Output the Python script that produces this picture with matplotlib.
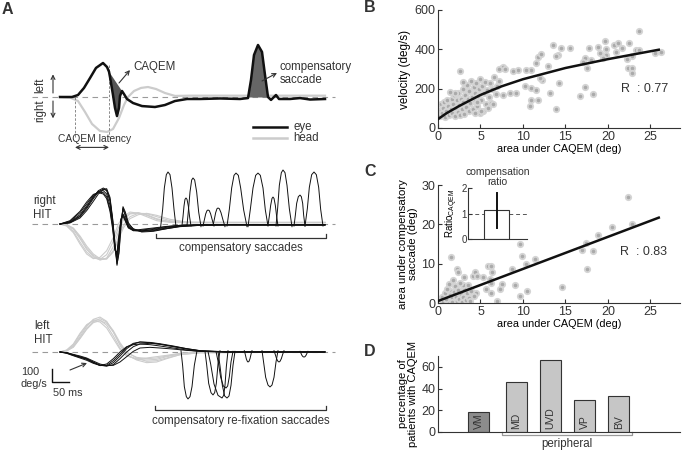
import numpy as np
import matplotlib
matplotlib.use('Agg')
import matplotlib.pyplot as plt

plt.rcParams['font.family'] = ['Liberation Sans', 'DejaVu Sans']
plt.rcParams['text.color'] = '#333333'

# ---------------- data ----------------
# panel A, top: example trace (t in ms, velocity in deg/s)
ex_head_t = [0, 30, 54, 75, 96, 120, 141, 159, 177, 192, 204, 222, 243, 264, 288, 315, 345, 390, 795]
ex_head_v = [0, -4, -30, -112, -202, -255, -262, -240, -157, -60, 0, 45, 68, 75, 60, 30, 8, 10, 10]
ex_eye_t = [0, 36, 54, 72, 90, 108, 129, 141, 147, 150, 159, 165, 171, 177, 180, 186, 192, 201, 219, 246,
            285, 315, 345, 381, 420, 480, 540, 564, 573, 582, 594, 606, 615, 624, 633, 648, 657, 690, 720, 750, 795]
ex_eye_v = [0, 0, 15, 68, 142, 218, 255, 225, 190, 150, 15, -82, -143, -82, 8, 45, 22, -15, -45, -68,
            -75, -60, -30, -15, -15, -11, -15, -8, 128, 315, 390, 338, 165, 0, -22, 15, -15, -15, -8, -19, -15]

# panel A, right HIT
rh_eye_t = [0, 30, 60, 80, 100, 115, 130, 140, 150, 158, 165, 171, 177, 183, 189, 196, 205, 220, 245, 280,
            320, 360, 420, 500, 600, 700, 795]
rh_eye_v = [
    [0, 8, 45, 100, 170, 225, 258, 265, 200, 40, -150, -300, -220, -20, 130, 90, 10, -40, -55, -50, -35, -20, -10, -5, -8, -5, -8],
    [0, 10, 55, 115, 190, 240, 262, 250, 170, 20, -170, -280, -150, 20, 110, 60, -10, -45, -50, -45, -30, -15, -8, -6, -5, -8, -6],
    [0, 15, 70, 135, 205, 245, 250, 225, 140, 0, -180, -250, -120, 30, 75, 40, -20, -50, -55, -40, -25, -12, -8, -5, -8, -6, -5],
    [0, 20, 85, 150, 215, 240, 235, 205, 110, -20, -190, -230, -100, 40, 70, 30, -25, -45, -45, -35, -20, -10, -6, -5, -5, -6, -8],
    [0, 25, 95, 165, 222, 235, 225, 190, 95, -40, -200, -210, -80, 35, 60, 20, -30, -50, -40, -30, -18, -10, -5, -8, -6, -5, -6],
    [0, 12, 60, 125, 200, 250, 270, 255, 185, 30, -160, -310, -200, 0, 120, 75, 0, -35, -60, -55, -35, -18, -10, -6, -5, -8, -5],
]
rh_head_t = [0, 20, 40, 60, 80, 100, 120, 140, 160, 175, 190, 210, 235, 260, 290, 330, 380, 450, 795]
rh_head_v = [
    [0, -8, -40, -110, -190, -245, -270, -255, -170, -60, 30, 75, 82, 70, 40, 18, 12, 12, 12],
    [0, -12, -55, -135, -210, -255, -265, -230, -130, -30, 40, 80, 85, 65, 35, 15, 10, 12, 10],
    [0, -5, -30, -90, -165, -225, -260, -262, -200, -100, -10, 55, 80, 78, 55, 25, 12, 10, 12],
    [0, -15, -65, -150, -225, -260, -250, -200, -100, 0, 55, 90, 80, 55, 25, 12, 10, 10, 10],
    [0, -6, -35, -100, -180, -235, -268, -262, -210, -120, -30, 40, 70, 80, 65, 35, 15, 12, 12],
]
rh_sacc_t = [
    [302, 308, 313, 319, 324, 330, 336, 342, 348], [366, 369, 372, 375, 378, 381, 385, 389, 393],
    [381, 385, 390, 395, 399, 404, 410, 416, 423], [429, 433, 437, 441, 444, 448, 452, 457, 462],
    [459, 463, 467, 471, 474, 478, 483, 489, 495], [501, 508, 515, 522, 528, 535, 542, 551, 561],
    [564, 571, 579, 587, 594, 601, 609, 616, 624], [624, 628, 632, 636, 639, 642, 646, 650, 654],
    [648, 653, 658, 664, 669, 675, 681, 688, 696], [702, 706, 710, 715, 720, 724, 728, 731, 735],
    [735, 742, 748, 755, 762, 769, 776, 782, 789],
]
rh_sacc_v = [
    [-20, 110, 270, 370, 390, 370, 270, 110, -20], [-10, 55, 135, 185, 195, 185, 135, 50, -15],
    [-10, 95, 240, 330, 345, 330, 240, 90, -20], [-15, 30, 75, 100, 105, 100, 75, 28, -15],
    [-10, 35, 85, 115, 120, 115, 85, 30, -20], [-15, 110, 270, 365, 382, 365, 270, 105, -20],
    [-20, 110, 270, 365, 382, 365, 270, 105, -15], [-10, 60, 140, 192, 202, 192, 140, 55, -15],
    [-15, 120, 290, 385, 405, 385, 290, 115, -20], [-15, 65, 155, 205, 217, 205, 155, 65, -15],
    [-15, 115, 275, 370, 390, 370, 275, 110, -15],
]

# panel A, left HIT
lh_head_t = [0, 20, 40, 60, 80, 100, 120, 140, 160, 180, 200, 230, 260, 290, 320, 360, 420, 795]
lh_head_v = [
    [0, 10, 45, 115, 190, 245, 262, 230, 150, 50, -20, -60, -80, -75, -50, -20, -5, 0],
    [0, 12, 55, 130, 200, 240, 240, 200, 120, 30, -25, -55, -60, -55, -35, -15, -5, 0],
    [0, 8, 35, 100, 170, 220, 235, 215, 150, 60, -5, -40, -50, -45, -30, -12, -3, 0],
    [0, 15, 60, 140, 205, 235, 225, 180, 100, 20, -30, -50, -45, -35, -25, -10, -3, 0],
    [0, 10, 40, 105, 175, 228, 250, 225, 160, 70, 0, -45, -70, -65, -45, -20, -5, 0],
]
lh_eye_t = [0, 20, 40, 60, 80, 100, 120, 140, 160, 180, 200, 220, 240, 270, 300, 340, 380, 420, 500, 795]
lh_eye_v = [
    [0, -5, -20, -35, -50, -75, -100, -105, -80, -30, 25, 60, 75, 72, 62, 45, 25, 10, 0, 0],
    [0, -8, -25, -40, -55, -80, -102, -100, -65, -15, 35, 65, 75, 70, 58, 40, 22, 8, 2, 0],
    [0, -6, -22, -38, -52, -78, -98, -105, -95, -50, 0, 40, 60, 65, 58, 42, 25, 10, 0, 0],
    [0, -10, -28, -45, -62, -85, -100, -90, -50, 0, 40, 55, 60, 55, 45, 30, 15, 5, 0, 0],
    [0, -5, -18, -30, -45, -68, -90, -102, -100, -75, -35, 5, 30, 35, 30, 22, 12, 5, 0, 0],
]
lh_sacc_t = [
    [363, 368, 373, 379, 384, 390, 396, 403, 411], [435, 440, 446, 453, 459, 464, 469, 474, 480],
    [444, 452, 462, 474, 486, 491, 495, 499, 504], [474, 480, 487, 494, 501, 507, 513, 519, 525],
    [468, 475, 482, 490, 498, 503, 508, 513, 519], [553, 556, 559, 562, 564, 567, 570, 573, 576],
    [606, 611, 617, 624, 630, 636, 642, 648, 654], [642, 646, 650, 654, 657, 660, 664, 668, 672],
    [720, 723, 726, 729, 732, 735, 738, 741, 744],
]
lh_sacc_v = [
    [10, -105, -260, -335, -352, -335, -260, -100, 10], [5, -95, -235, -305, -322, -305, -235, -90, 10],
    [5, -90, -240, -325, -345, -325, -250, -110, 10], [5, -105, -250, -330, -345, -330, -250, -100, 5],
    [5, -80, -190, -255, -270, -255, -185, -75, 5], [10, -20, -52, -70, -75, -70, -50, -18, 10],
    [10, -80, -190, -248, -262, -248, -190, -75, 10], [10, -20, -52, -70, -75, -70, -50, -18, 10],
    [5, -10, -26, -35, -38, -35, -25, -9, 5],
]

# panel B: peak velocity vs area under CAQEM
b_x = [13.6, 14.5, 15.5, 14.1, 13.9, 11.8, 12.1, 11.0, 10.4, 11.6, 12.9, 12.2, 12.0, 11.0, 11.6, 11.0, 11.8, 10.8,
       13.9, 13.2, 14.2, 10.2, 9.4, 8.8, 9.2, 8.5, 7.6, 7.5, 7.7, 7.2, 7.9, 17.8, 18.8, 19.8, 19.7, 20.7, 21.2, 21.7,
       22.5, 23.7, 23.3, 21.0, 19.8, 19.1, 19.4, 18.0, 17.3, 17.1, 17.5, 17.3, 16.7, 18.3, 22.4, 22.9, 22.9, 22.2,
       22.8, 25.5, 26.3, 23.7, 2.6,
       0.2, 0.3, 0.4, 0.5, 0.6, 0.7, 0.8, 1.0, 1.1, 1.2, 1.3, 1.5, 1.6, 1.7, 1.8, 1.9, 2.0, 2.1, 2.2, 2.3, 2.4, 2.5,
       2.6, 2.7, 2.8, 2.9, 3.0, 3.1, 3.2, 3.3, 3.4, 3.5, 3.6, 3.7, 3.8, 3.9, 4.0, 4.1, 4.2, 4.3, 4.4, 4.5, 4.6, 4.7,
       4.8, 4.9, 5.0, 5.1, 5.2, 5.3, 5.4, 5.5, 5.6, 5.8, 6.0, 6.1, 6.2, 6.4, 6.6, 6.8, 7.0, 7.2, 3.0, 2.0, 4.6, 5.9,
       6.5, 1.4, 5.1, 4.3]
b_y = [423, 406, 406, 372, 365, 360, 376, 296, 296, 330, 313, 245, 254, 203, 195, 144, 144, 110,
       98, 178, 228, 215, 296, 291, 178, 178, 169, 305, 310, 300, 298, 409, 414, 401, 440, 420, 431, 409,
       431, 494, 398, 384, 372, 381, 355, 347, 355, 338, 305, 211, 161, 173, 305, 305, 279, 350,
       364, 381, 384, 398, 291,
       60, 90, 120, 75, 100, 130, 55, 85, 140, 110, 65, 95, 150, 75, 120, 170, 60, 100, 140, 80, 180, 115,
       65, 150, 95, 200, 130, 70, 170, 105, 220, 145, 85, 190, 125, 240, 160, 95, 210, 135, 180, 230, 110, 165,
       200, 75, 250, 140, 215, 85, 180, 235, 120, 195, 160, 230, 125, 200, 260, 175, 215, 240, 235, 180, 130, 100,
       120, 185, 85, 76]
b_fit_x = [0, 1, 2.5, 5, 7.5, 10, 15, 20, 26]
b_fit_y = [45, 75, 112, 168, 212, 248, 305, 350, 398]
b_r = 'R  : 0.77'

# panel C: area under compensatory saccade vs area under CAQEM
c_x = [22.4, 22.9, 20.5, 18.9, 17.4, 16.9, 18.2, 17.5, 14.6, 9.6, 9.9, 11.4, 10.4, 8.7, 9.1, 9.7, 10.5, 1.5, 2.2,
       2.4, 1.8, 2.0, 1.4, 3.1, 4.1, 4.4, 4.6, 5.9, 6.3, 6.4, 5.3, 6.1, 6.3, 7.5, 7.3, 5.6, 4.5, 6.3, 6.9,
       0.3, 0.5, 0.6, 0.8, 1.0, 1.1, 1.2, 1.4, 1.6, 1.7, 1.9, 2.1, 2.2, 2.4, 2.5, 2.7, 2.8, 3.0, 3.1, 3.3,
       3.4, 3.6, 3.8, 3.9, 2.9, 1.3, 2.6, 3.5, 0.9, 4.2]
c_y = [26.9, 20.1, 19.4, 17.3, 15.2, 13.5, 13.3, 8.7, 4.0, 15.0, 12.0, 11.2, 9.9, 8.7, 4.5, 1.9, 3.0, 11.6, 8.6,
       8.0, 5.9, 4.2, 3.0, 6.5, 6.8, 7.8, 6.9, 9.5, 9.5, 7.8, 6.5, 6.1, 5.2, 4.8, 3.6, 3.6, 2.5, 2.5, 0.4,
       0.5, 1.5, 0.2, 2.5, 1.0, 3.5, 0.4, 2.0, 1.2, 0.3, 2.8, 1.6, 0.5, 3.2, 1.0, 2.2, 0.3, 1.5, 3.8, 0.8,
       2.6, 1.2, 0.4, 3.0, 4.5, 4.8, 5.2, 4.6, 0.9, 1.8]
c_fit_x = [0, 26]
c_fit_y = [0.5, 21.7]
c_r = 'R  : 0.83'
ratio_mean = 1.12
ratio_lo, ratio_hi = 0.42, 1.8

# panel D
d_groups = ['VM', 'MD', 'UVD', 'VP', 'BV']
d_percent = [18.6, 46.3, 66.0, 29.5, 33.2]

# ---------------- figure ----------------
W, H = 682, 451
fig = plt.figure(figsize=(W / 100, H / 100), dpi=100)
DK = '#333333'
LG = '#cccccc'
FA = 8.3  # panel A text size


def px_axes(x0, y0, x1, y1):
    return fig.add_axes([x0 / W, 1 - y1 / H, (x1 - x0) / W, (y1 - y0) / H])


def trace_axes(y0, y1, base):
    ax = px_axes(15, y0, 340, y1)
    ax.set_xlim(-135, 840)
    ax.set_ylim((base - y1) * 7.5, (base - y0) * 7.5)
    ax.axis('off')
    ax.plot([-84, 825], [0, 0], ls=(0, (5, 4)), color='#9a9a9a', lw=0.8, zorder=0)
    return ax


def arrow(ax, xy, xytext, style='->'):
    ax.annotate('', xy=xy, xytext=xytext,
                arrowprops=dict(arrowstyle=style, color=DK, lw=0.8, shrinkA=0, shrinkB=0,
                                mutation_scale=7))


# --- A top: example
a1 = trace_axes(30, 160, 97)
a1.plot(ex_head_t, ex_head_v, color=LG, lw=1.6, zorder=2)
a1.plot(ex_eye_t, ex_eye_v, color='#111111', lw=1.8, zorder=3)
et = np.array(ex_eye_t)
ev = np.array(ex_eye_v)
m = (et >= 147) & (et <= 186)
a1.fill(et[m], ev[m], color='#555555', lw=0, zorder=2.5)
m2 = (et >= 564) & (et <= 624)
a1.fill_between(et[m2], ev[m2], 0, color='#666666', lw=0, zorder=2.5)
a1.plot([45, 45], [0, -300], ls=(0, (3, 2)), color='#777777', lw=0.6)
a1.plot([147, 147], [240, -300], ls=(0, (3, 2)), color='#777777', lw=0.6)
a1.text(105, -318, 'CAQEM latency', fontsize=7.4, ha='center', va='center')
arrow(a1, (147, -378), (45, -378), '<->')
arrow(a1, (-21, 170), (-21, 30))
arrow(a1, (-21, -160), (-21, -30))
a1.text(-58, 90, 'left', rotation=90, fontsize=FA, ha='center', va='center')
a1.text(-58, -105, 'right', rotation=90, fontsize=FA, ha='center', va='center')
a1.text(219, 225, 'CAQEM', fontsize=FA, ha='left', va='center')
arrow(a1, (210, 202), (177, 105))
a1.text(660, 176, 'compensatory\nsaccade', fontsize=FA, ha='left', va='center', linespacing=1.1)
arrow(a1, (651, 180), (606, 120))
a1.plot([579, 681], [-225, -225], color='#111111', lw=1.8)
a1.plot([579, 681], [-307, -307], color=LG, lw=1.8)
a1.text(700, -225, 'eye', fontsize=FA, va='center')
a1.text(700, -307, 'head', fontsize=FA, va='center')

# --- A middle: right HIT
a2 = trace_axes(160, 295, 224)
for v in rh_head_v:
    a2.plot(rh_head_t, v, color=LG, lw=0.8, zorder=1)
for v in rh_eye_v:
    a2.plot(rh_eye_t, v, color='#111111', lw=0.7, zorder=2)
for t, v in zip(rh_sacc_t, rh_sacc_v):
    a2.plot(t, v, color='#111111', lw=0.7, zorder=2)
a2.text(-81, 120, 'right\nHIT', fontsize=FA, ha='left', va='center', linespacing=1.2)
a2.plot([288, 288, 798, 798], [-75, -105, -105, -75], color=DK, lw=0.9)
a2.text(543, -180, 'compensatory saccades', fontsize=FA, ha='center', va='center')

# --- A bottom: left HIT
a3 = trace_axes(295, 440, 352)
for v in lh_head_v:
    a3.plot(lh_head_t, v, color=LG, lw=0.8, zorder=1)
for v in lh_eye_v:
    a3.plot(lh_eye_t, v, color='#111111', lw=0.7, zorder=2)
for t, v in zip(lh_sacc_t, lh_sacc_v):
    a3.plot(t, v, color='#111111', lw=0.7, zorder=2)
a3.text(-78, 142, 'left\nHIT', fontsize=FA, ha='left', va='center', linespacing=1.2)
arrow(a3, (81, -83), (30, -135))
a3.plot([-24, -24, 26], [-125, -225, -225], color='#111111', lw=1.0)
a3.text(-118, -195, '100\ndeg/s', fontsize=7.8, ha='left', va='center', linespacing=1.3)
a3.text(-20, -305, '50 ms', fontsize=7.8, ha='left', va='center')
a3.plot([285, 285, 798, 798], [-405, -435, -435, -405], color=DK, lw=0.9)
a3.text(541, -517, 'compensatory re-fixation saccades', fontsize=FA, ha='center', va='center')


def style_axes(ax):
    for s in ['top', 'right']:
        ax.spines[s].set_visible(False)
    for s in ['left', 'bottom']:
        ax.spines[s].set_color(DK)
        ax.spines[s].set_linewidth(0.8)
    ax.tick_params(direction='in', length=3, width=0.8, colors=DK, labelsize=9, pad=2)
    ax.patch.set_alpha(0)


# --- B
axB = px_axes(438, 10, 680, 128)
style_axes(axB)
axB.scatter(b_x, b_y, s=15, facecolor='#aaaaaa', edgecolor='#d4d4d4', lw=1.3, zorder=2)
axB.plot(b_fit_x, b_fit_y, color='#111111', lw=1.8, zorder=3)
axB.set_xlim(0, 28.5)
axB.set_ylim(0, 600)
axB.set_xticks([0, 5, 10, 15, 20, 25])
axB.set_yticks([0, 200, 400, 600])
axB.set_xlabel('area under CAQEM (deg)', fontsize=7.8, labelpad=1)
axB.set_ylabel('velocity (deg/s)', fontsize=8.5, labelpad=2)
axB.text(21.6, 200, b_r, fontsize=9, ha='left', va='center')

# --- C
axC = px_axes(438, 185, 680, 303)
style_axes(axC)
axC.scatter(c_x, c_y, s=15, facecolor='#aaaaaa', edgecolor='#d4d4d4', lw=1.3, zorder=2)
axC.plot(c_fit_x, c_fit_y, color='#111111', lw=1.8, zorder=3)
axC.set_xlim(0, 28.5)
axC.set_ylim(0, 30)
axC.set_xticks([0, 5, 10, 15, 20, 25])
axC.set_yticks([0, 10, 20, 30])
axC.set_xlabel('area under CAQEM (deg)', fontsize=7.8, labelpad=1)
axC.set_ylabel('area under compensatory\nsaccade (deg)', fontsize=8.2, labelpad=2, linespacing=1.1)
axC.text(21.4, 13, c_r, fontsize=9, ha='left', va='center')

ins = px_axes(468, 188, 527, 239)
style_axes(ins)
ins.bar([0], [ratio_mean], width=1.0, color='white', edgecolor=DK, lw=0.8, zorder=2)
ins.plot([0, 0], [ratio_lo, ratio_hi], color='#111111', lw=1.4, zorder=3)
ins.axhline(1, ls=(0, (4, 3)), color='#555555', lw=0.7, zorder=1)
ins.set_xlim(-1.15, 1.2)
ins.set_ylim(0, 2)
ins.set_xticks([])
ins.set_yticks([0, 1, 2])
ins.tick_params(labelsize=7, pad=1)
ins.set_ylabel('Ratio$_{\\mathregular{CAQEM}}$', fontsize=7, labelpad=1)
ins.set_title('compensation\nratio', fontsize=7.5, pad=2, linespacing=1.0)

# --- D
axD = px_axes(438, 356, 680, 432)
style_axes(axD)
d_pos = [0.9, 2, 3, 4, 5]
d_cols = ['#8c8c8c'] + ['#c6c6c6'] * 4
axD.bar(d_pos, d_percent, width=0.62, color=d_cols, edgecolor=DK, lw=0.8)
for p, g in zip(d_pos, d_groups):
    axD.text(p, 2.5, g, rotation=90, fontsize=7.5, ha='center', va='bottom')
axD.set_xlim(-0.3, 6.8)
axD.set_ylim(0, 70)
axD.set_xticks([])
axD.set_yticks([0, 20, 40, 60])
axD.set_ylabel('percentage of\npatients with CAQEM', fontsize=8, labelpad=2, linespacing=1.05)
axD.plot([1.57, 1.57, 5.39, 5.39], [-0.3, -2.6, -2.6, -0.3], color='#999999', lw=0.9, clip_on=False)
axD.text(3.48, -10.7, 'peripheral', fontsize=8.3, ha='center', va='center')

# panel letters
for lab, x, y in [('A', 7, 9), ('B', 370, 8), ('C', 370, 172), ('D', 370, 352)]:
    fig.text(x / W, 1 - y / H, lab, fontsize=11.5, fontweight='bold', ha='center', va='center')

fig.savefig('out.png', dpi=100)
